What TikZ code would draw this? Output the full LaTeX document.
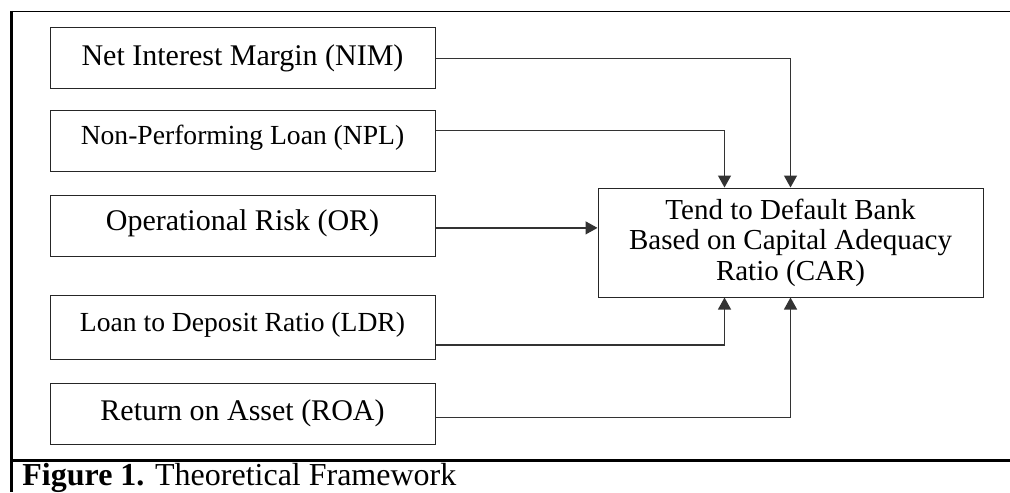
\documentclass[tikz,border=0pt]{standalone}
\usepackage{fontspec}
\setmainfont{Liberation Serif}
\usetikzlibrary{arrows.meta,positioning,calc}

\begin{document}
\begin{tikzpicture}[
      x=0.5pt, y=-0.5pt, >={Triangle[length=6pt,width=6.5pt]},
      node distance=10pt,
      fac/.style={draw=black!85, line width=0.5pt, minimum width=192.5pt,
                  minimum height=30.5pt, inner sep=0pt,
                  font=\fontsize{15}{17}\selectfont},
      facs/.style={fac, font=\fontsize{13.8}{16}\selectfont},
      dep/.style={draw=black!85, line width=0.5pt, align=center, inner sep=0pt,
                  minimum width=192.5pt, minimum height=54.5pt,
                  font=\fontsize{14.5}{15.2}\selectfont},
      link/.style={->, draw=black!80, line width=0.6pt},
    ]
    \useasboundingbox (0,0) rectangle (1010,492);

    % figure frame
    \draw[line width=0.6pt] (11.5,11.5) -- (1010,11.5);
    \draw[line width=1.1pt] (11.5,11) -- (11.5,492);
    \draw[line width=1.1pt] (11.5,460.5) -- (1010,460.5);

    % factors column
    \node[fac] (nim) at (242.5,58.5) {Net Interest Margin (NIM)};
    \node[facs, below=of nim, text depth=6pt] (npl) {Non-Performing Loan (NPL)};
    \node[fac, below=11.5pt of npl, text depth=5pt] (or) {Operational Risk (OR)};
    \node[facs, below=19pt of or, minimum height=32pt, text depth=5pt] (ldr) {Loan to Deposit Ratio (LDR)};
    \node[fac, below=11.5pt of ldr] (roa) {Return on Asset (ROA)};

    % dependent variable
    \node[dep] (car) at (790.5,242.5) {Tend to Default Bank\\Based on Capital Adequacy\\Ratio (CAR)};

    % flows
    \draw[link] (nim.east) -| (car.north);
    \draw[link] ([yshift=5pt]npl.east) -| ([xshift=-33pt]car.north);
    \draw[link] ([yshift=-1.2pt]or.east) -- ([yshift=-1.2pt]or.east -| car.west);
    \draw[link] ([yshift=-9pt]ldr.east) -| ([xshift=-33pt]car.south);
    \draw[link] ([yshift=-2pt]roa.east) -| (car.south);

    % caption
    \node[anchor=base west, inner sep=0pt, font=\fontsize{16}{18}\selectfont]
      (cap) at (22,485) {\textbf{Figure 1.} Theoretical Framework};
  \end{tikzpicture}
\end{document}
